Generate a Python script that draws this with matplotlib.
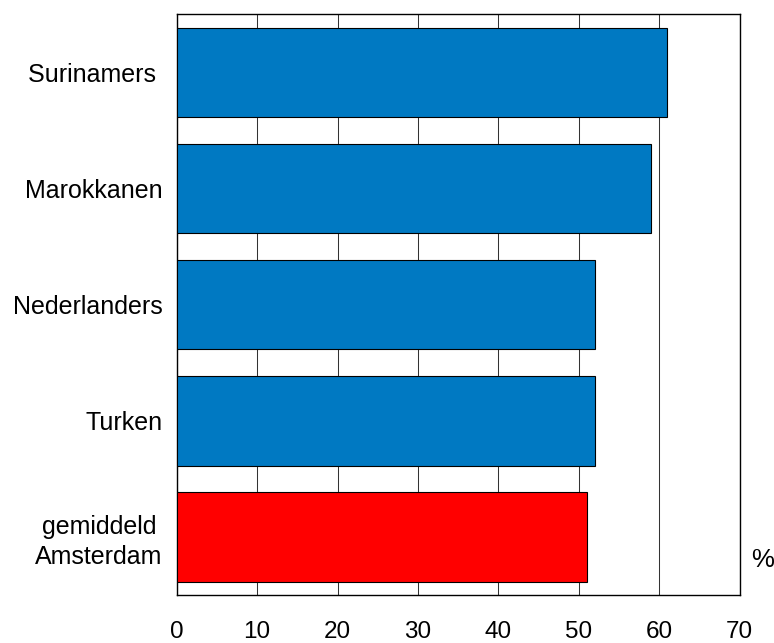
import matplotlib
matplotlib.use("Agg")
import matplotlib.pyplot as plt

categories = ["Surinamers ", "Marokkanen", "Nederlanders", "Turken", "gemiddeld\nAmsterdam"]
values = [61, 59, 52, 52, 51]
colors = ["#0079C2", "#0079C2", "#0079C2", "#0079C2", "#FF0000"]
xticks = [0, 10, 20, 30, 40, 50, 60, 70]
unit_label = "%"

plt.rcParams['font.family'] = ['Liberation Sans', 'DejaVu Sans']

fig = plt.figure(figsize=(7.74, 6.43), dpi=100)
ax = fig.add_axes([176.7 / 774, 48 / 643, (739.5 - 176.7) / 774, (595 - 14.3) / 643])

pos = list(range(len(categories)))
ax.barh(pos, values, height=0.77, color=colors, edgecolor="black", linewidth=0.8, zorder=3)

ax.set_xlim(0, 70)
ax.set_ylim(len(categories) - 0.5, -0.5)
ax.set_xticks(xticks)
ax.set_xticklabels([str(t) for t in xticks], fontsize=17.5)
ax.set_yticks(pos)
labels = ax.set_yticklabels(categories, fontsize=18)
for lab in labels:
    lab.set_multialignment("center")
    lab.set_linespacing(1.3)

ax.tick_params(axis="x", length=0, pad=18.5)
ax.tick_params(axis="y", length=0, pad=10)
ax.xaxis.grid(True, color="#333333", linewidth=0.75, zorder=0)
ax.set_axisbelow(True)
for s in ax.spines.values():
    s.set_linewidth(1.0)
    s.set_color("black")

fig.text(763 / 774, 1 - 560 / 643, unit_label, ha="center", va="center", fontsize=18.5)

fig.savefig("out.png", dpi=100)
